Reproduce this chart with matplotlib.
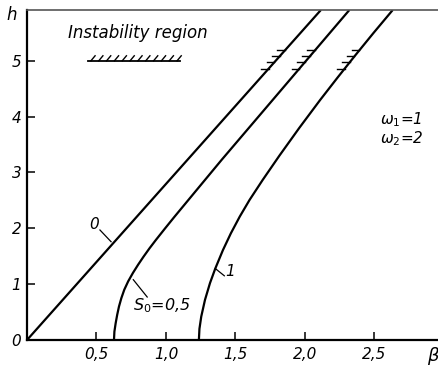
import numpy as np
import matplotlib
matplotlib.use("Agg")
import matplotlib.pyplot as plt

# ---- data ----
h0 = [0.0, 5.91]
beta0 = [0.0, 2.115]

h_s05 = [0.0, 0.15, 0.3, 0.45, 0.6, 0.75, 0.9, 1.05, 1.2, 1.35, 1.49, 1.64, 1.79, 2.0, 2.2, 2.69, 3.23, 4.1, 5.02, 5.91]
beta_s05 = [0.626, 0.629, 0.638, 0.649, 0.662, 0.679, 0.700, 0.728, 0.762, 0.800, 0.838, 0.881, 0.927, 0.994, 1.059, 1.222, 1.402, 1.700, 2.015, 2.320]

h_s1 = [0.0, 0.2, 0.42, 0.72, 1.02, 1.28, 1.61, 1.91, 2.21, 2.51, 2.87, 3.3, 3.8, 4.3, 4.7, 5.1, 5.5, 5.91]
beta_s1 = [1.237, 1.241, 1.254, 1.281, 1.317, 1.355, 1.410, 1.467, 1.531, 1.602, 1.697, 1.816, 1.960, 2.110, 2.235, 2.363, 2.494, 2.632]

xticks = [0.5, 1.0, 1.5, 2.0, 2.5]
xticklabels = ["0,5", "1,0", "1,5", "2,0", "2,5"]
yticks = [0, 1, 2, 3, 4, 5]
yticklabels = ["0", "1", "2", "3", "4", "5"]

plt.rcParams['font.family'] = ['DejaVu Sans']
fig = plt.figure(figsize=(4.39, 3.70), dpi=100)
ax = fig.add_axes([27/439, 30/370, 412/439, 330/370])
ax.set_xlim(0, 2.965)
ax.set_ylim(0, 5.91)

lw = 1.6
for hh, bb in [(h0, beta0), (h_s05, beta_s05), (h_s1, beta_s1)]:
    ax.plot(bb, hh, color='black', lw=lw, solid_capstyle='butt', solid_joinstyle='round')

# instability hatches on the curves (short horizontal strokes on the left)
for hh, bb in [(h0, beta0), (h_s05, beta_s05), (h_s1, beta_s1)]:
    for hv in [4.86, 4.97, 5.08, 5.19]:
        bv = np.interp(hv, hh, bb)
        ax.plot([bv - 0.055, bv], [hv, hv], color='black', lw=1.0)

# legend hatch line
ax.plot([0.44, 1.10], [5.0, 5.0], color='black', lw=1.3)
for xv in np.linspace(0.46, 1.08, 12):
    ax.plot([xv, xv + 0.03], [5.0, 5.09], color='black', lw=1.0)
ax.text(0.80, 5.5, "Instability region", style='italic', fontsize=12,
        ha='center', va='center')

# curve labels
ax.plot([0.525, 0.605], [1.97, 1.76], color='black', lw=0.9)
ax.text(0.48, 2.06, "0", style='italic', fontsize=11, ha='center', va='center')
ax.plot([0.765, 0.865], [1.08, 0.77], color='black', lw=0.9)
ax.text(0.97, 0.62, r"$S_0$=0,5", style='italic', fontsize=11.5, ha='center', va='center')
ax.plot([1.355, 1.42], [1.28, 1.15], color='black', lw=0.9)
ax.text(1.465, 1.22, "1", style='italic', fontsize=11, ha='center', va='center')

ax.text(2.54, 3.95, r"$\omega_1$=1", style='italic', fontsize=11, ha='left', va='center')
ax.text(2.54, 3.6, r"$\omega_2$=2", style='italic', fontsize=11, ha='left', va='center')

# axes styling
ax.spines['right'].set_visible(False)
for s in ['left', 'bottom']:
    ax.spines[s].set_linewidth(1.6)
ax.spines['top'].set_linewidth(1.2)
ax.spines['top'].set_color('#555555')
ax.set_xticks(xticks)
ax.set_xticklabels(xticklabels, style='italic', fontsize=11)
ax.set_yticks(yticks)
ax.set_yticklabels(yticklabels, style='italic', fontsize=11)
ax.tick_params(direction='in', length=6, width=1.1, pad=4)
ax.tick_params(axis='x', pad=5)

fig.text(12/439, 1 - 15/370, "h", style='italic', fontsize=12, ha='center', va='center')
fig.text(433/439, 1 - 356/370, r"$\beta$", fontsize=13, ha='center', va='center')

fig.savefig("out.png", dpi=100)
